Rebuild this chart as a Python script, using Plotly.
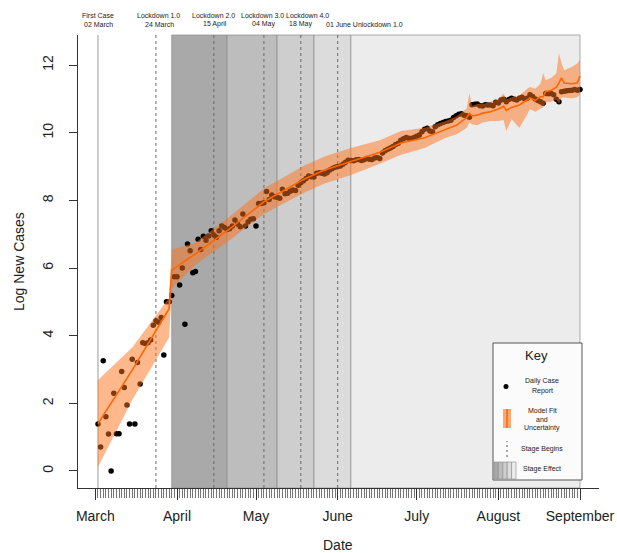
import plotly.graph_objects as go
import pandas as pd

# ---------------- data ----------------
first_date = "2020-03-02"
daily_log_cases = [
    1.39, 0.71, 3.26, 1.60, 1.09, 0.00, 2.30, 1.10, 1.10, 2.94,
    2.47, 1.95, 1.39, 3.30, 1.39, 3.21, 2.57, 3.79, 3.77, 3.79,
    3.87, 4.31, 4.44, 4.40, 4.54, 3.43, 5.00, 5.00, 5.19, 5.74,
    5.74, 5.50, 6.00, 4.34, 6.71, 6.51, 5.86, 5.90, 6.85, 6.55,
    6.94, 6.82, 6.95, 7.10, 6.98, 6.91, 7.10, 7.24, 7.20, 7.14,
    7.16, 7.24, 7.42, 7.30, 7.22, 7.60, 7.24, 7.37, 7.44, 7.46,
    7.24, 7.91, 7.91, 7.93, 8.26, 8.03, 8.16, 8.11, 8.09, 8.06,
    8.33, 8.20, 8.21, 8.27, 8.31, 8.29, 8.45, 8.52, 8.58, 8.65,
    8.72, 8.70, 8.69, 8.80, 8.82, 8.80, 8.78, 8.82, 8.90, 8.94,
    8.98, 9.00, 9.02, 9.07, 9.13, 9.19, 9.18, 9.17, 9.20, 9.21,
    9.18, 9.20, 9.24, 9.22, 9.21, 9.25, 9.27, 9.24, 9.40, 9.47,
    9.51, 9.55, 9.59, 9.65, 9.69, 9.78, 9.82, 9.86, 9.84, 9.83,
    9.86, 9.90, 9.93, 10.03, 10.10, 10.13, 10.05, 10.03, 10.18, 10.24,
    10.27, 10.30, 10.33, 10.35, 10.37, 10.45, 10.50, 10.55, 10.56, 10.52,
    10.50, 10.46, 10.83, 10.84, 10.85, 10.80, 10.79, 10.83, 10.82, 10.82,
    10.80, 10.90, 10.88, 10.97, 10.99, 10.92, 10.98, 11.02, 10.99, 10.97,
    11.02, 11.05, 11.00, 11.02, 11.12, 11.07, 11.00, 10.95, 10.92, 10.87,
    11.16, 11.15, 11.16, 11.12, 10.99, 10.92, 11.21, 11.23, 11.24, 11.25,
    11.26, 11.28, 11.26, 11.28,
]

# model fit (days since first case), fitted value and uncertainty band
fit_day = [0, 13, 27, 28, 37, 51, 63, 78, 86, 96, 107, 115, 124, 132, 136,
           140, 141, 142, 144, 146, 149, 152, 154, 155, 157, 160, 163, 164,
           166, 168, 169, 170, 172, 174, 175, 176, 177, 180, 182, 183]
fit_value = [1.40, 2.98, 4.80, 5.94, 6.42, 7.22, 7.96, 8.62, 8.90, 9.14, 9.42,
             9.70, 9.85, 10.10, 10.22, 10.45, 10.57, 10.50, 10.52, 10.58,
             10.62, 10.70, 10.78, 10.66, 10.75, 10.82, 10.98, 11.03, 10.96,
             11.07, 11.06, 11.22, 11.25, 11.35, 11.47, 11.62, 11.47, 11.45,
             11.48, 11.68]
fit_lower = [0.12, 2.10, 3.95, 5.40, 6.10, 6.88, 7.60, 8.22, 8.50, 8.75, 9.08,
             9.35, 9.55, 9.85, 9.95, 10.15, 10.30, 10.25, 10.22, 10.30, 10.35,
             10.35, 10.38, 10.05, 10.40, 10.15, 10.55, 10.70, 10.62, 10.72,
             10.75, 10.90, 10.92, 10.98, 10.85, 11.05, 11.05, 11.02, 11.05,
             11.12]
fit_upper = [2.69, 3.65, 5.12, 6.55, 6.75, 7.58, 8.35, 9.02, 9.30, 9.55, 9.78,
             10.05, 10.15, 10.35, 10.48, 10.72, 11.17, 10.80, 10.85, 10.85,
             10.92, 11.00, 11.16, 10.98, 11.05, 11.10, 11.30, 11.35, 11.30,
             11.45, 11.76, 11.55, 11.62, 11.75, 12.35, 12.05, 11.85, 11.95,
             12.05, 12.15]

lockdown_dates = ["2020-03-24", "2020-04-15", "2020-05-04", "2020-05-18", "2020-06-01"]
stage_effect_starts = ["2020-03-30", "2020-04-20", "2020-05-09", "2020-05-23", "2020-06-06"]
stage_effect_end = "2020-09-01"
stage_colors = ["#a9a9a9", "#bdbdbd", "#cecece", "#dcdcdc", "#ececec"]

month_ticks = ["2020-03-01", "2020-04-01", "2020-05-01", "2020-06-01",
               "2020-07-01", "2020-08-01", "2020-09-01"]
month_labels = ["March", "April", "May", "June", "July", "August", "September"]
y_ticks = [0, 2, 4, 6, 8, 10, 12]

# ---------------- layout geometry ----------------
W, H = 617, 553
L, R, T, B = 78, 18, 35, 65
PW, PH = W - L - R, H - T - B


def px(x):
    return (x - L) / PW


def py(y):
    return (H - B - y) / PH


FONT = "Liberation Sans, Arial, Helvetica, sans-serif"

t0 = pd.Timestamp(first_date)
dates = [t0 + pd.Timedelta(days=i) for i in range(len(daily_log_cases))]
fit_dates = [t0 + pd.Timedelta(days=d) for d in fit_day]

fig = go.Figure()

# daily points (drawn first so band tints them)
fig.add_trace(go.Scatter(x=dates, y=daily_log_cases, mode="markers",
                         marker=dict(color="black", size=5.5), showlegend=False,
                         hoverinfo="skip"))
# uncertainty band
fig.add_trace(go.Scatter(x=fit_dates + fit_dates[::-1], y=fit_upper + fit_lower[::-1],
                         fill="toself", fillcolor="rgba(255,112,25,0.5)",
                         line=dict(width=0), mode="lines", showlegend=False,
                         hoverinfo="skip"))
# fitted line
fig.add_trace(go.Scatter(x=fit_dates, y=fit_value, mode="lines",
                         line=dict(color="rgb(255,102,0)", width=1.6),
                         showlegend=False, hoverinfo="skip"))

shapes = []
# stage effect rectangles
for i, s in enumerate(stage_effect_starts):
    e = stage_effect_starts[i + 1] if i + 1 < len(stage_effect_starts) else stage_effect_end
    shapes.append(dict(type="rect", xref="x", yref="paper", x0=s, x1=e, y0=0, y1=1,
                       fillcolor=stage_colors[i], line=dict(color="#8a8a8a", width=0.7),
                       layer="below"))
# first case line
shapes.append(dict(type="line", xref="x", yref="paper", x0=first_date, x1=first_date,
                   y0=0, y1=1, line=dict(color="#9a9a9a", width=1), layer="below"))
# stage begins (dashed)
for d in lockdown_dates:
    shapes.append(dict(type="line", xref="x", yref="paper", x0=d, x1=d, y0=0, y1=1,
                       line=dict(color="#6a6a6a", width=1, dash="3px,3px"), layer="below"))

# ---------------- key box ----------------
kx0, kx1, ky0, ky1 = 493, 582, 343, 480
shapes.append(dict(type="rect", xref="paper", yref="paper", x0=px(kx0), x1=px(kx1),
                   y0=py(ky1), y1=py(ky0), fillcolor="#fbfbfb",
                   line=dict(color="#555555", width=1), layer="above"))
# dot
shapes.append(dict(type="circle", xref="paper", yref="paper", x0=px(503.5), x1=px(508.5),
                   y0=py(389), y1=py(384), fillcolor="black", line=dict(width=0)))
# orange bar
shapes.append(dict(type="rect", xref="paper", yref="paper", x0=px(503), x1=px(511),
                   y0=py(428), y1=py(409), fillcolor="rgba(255,140,70,0.75)",
                   line=dict(width=0)))
shapes.append(dict(type="line", xref="paper", yref="paper", x0=px(507), x1=px(507),
                   y0=py(428), y1=py(409), line=dict(color="rgb(255,102,0)", width=1.5)))
# dashed
shapes.append(dict(type="line", xref="paper", yref="paper", x0=px(507), x1=px(507),
                   y0=py(457), y1=py(441), line=dict(color="#555555", width=1, dash="2px,3px")))
# gradient stripes
for i, c in enumerate(stage_colors):
    shapes.append(dict(type="rect", xref="paper", yref="paper",
                       x0=px(494 + 4.4 * i), x1=px(494 + 4.4 * (i + 1)),
                       y0=py(479), y1=py(462), fillcolor=c,
                       line=dict(color="#8a8a8a", width=0.6)))

annotations = []


def ann(text, x, y, size=7, xanchor="center"):
    annotations.append(dict(text=text, xref="paper", yref="paper", x=px(x), y=py(y),
                            xanchor=xanchor, yanchor="middle", showarrow=False,
                            font=dict(family=FONT, size=size, color="#222222")))


# event labels
ann("First Case", 98, 15)
ann("02 March", 98, 24)
ann("Lockdown 1.0", 158, 15)
ann("24 March", 159, 24)
ann("Lockdown 2.0", 213, 15)
ann("15 April", 215, 24)
ann("Lockdown 3.0", 262, 15)
ann("04 May", 263, 24)
ann("Lockdown 4.0", 307, 15)
ann("18 May", 300, 24)
ann("01 June Unlockdown 1.0", 364, 24)

# key texts
ann("Key", 536, 355, size=13)
ann("Daily Case", 542, 381)
ann("Report", 542, 391)
ann("Model Fit", 542, 410)
ann("and", 542, 419)
ann("Uncertainty", 542, 428)
ann("Stage Begins", 542, 449)
ann("Stage Effect", 542, 469)

# axis titles
ann("Date", 338, 545, size=14)
annotations.append(dict(text="Log New Cases", xref="paper", yref="paper", x=px(19),
                        y=py(262), xanchor="center", yanchor="middle", showarrow=False,
                        textangle=-90, font=dict(family=FONT, size=14, color="#222222")))

fig.update_layout(
    width=W, height=H,
    margin=dict(l=L, r=R, t=T, b=B, pad=0, autoexpand=False),
    paper_bgcolor="white", plot_bgcolor="white",
    font=dict(family=FONT, size=14, color="#222222"),
    shapes=shapes, annotations=annotations, showlegend=False,
    xaxis=dict(type="date", range=["2020-02-23 10:00", "2020-09-08 05:00"],
               automargin=False,
               showgrid=False, zeroline=False, showline=True, linecolor="#333333",
               linewidth=1, tickmode="array", tickvals=month_ticks, ticktext=month_labels,
               ticks="outside", ticklen=11, tickcolor="#333333", ticklabelstandoff=4,
               tickfont=dict(family=FONT, size=14, color="#222222"),
               minor=dict(tickmode="array", tickvals=dates, ticks="outside", ticklen=9,
                          tickcolor="#777777", tickwidth=1, showgrid=False)),
    yaxis=dict(range=[-0.503, 12.89], automargin=False,
               showgrid=False, zeroline=False, showline=True,
               linecolor="#333333", linewidth=1, tickmode="array", tickvals=y_ticks,
               ticks="outside", ticklen=8, tickcolor="#333333", tickangle=-90,
               ticklabelstandoff=10,
               tickfont=dict(family=FONT, size=14, color="#222222")),
)

fig.write_html("out.html")
